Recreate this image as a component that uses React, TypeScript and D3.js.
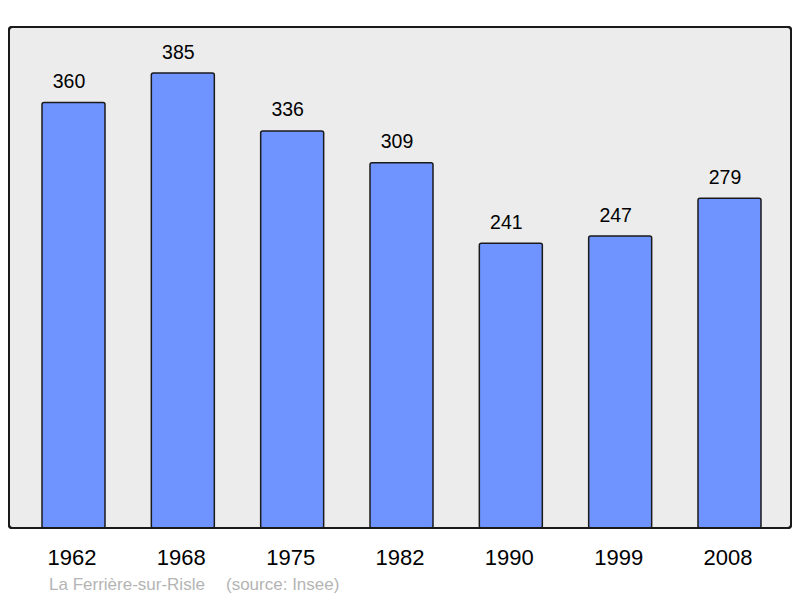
import * as d3 from "d3";
import React from 'react'

const years = ["1962", "1968", "1975", "1982", "1990", "1999", "2008"]
const population = [360, 385, 336, 309, 241, 247, 279]
const commune = "La Ferrière-sur-Risle"
const source = "(source: Insee)"

const W = 800
const H = 598
const frame = { l: 9, t: 27, r: 791, b: 528 }

const App: React.FC = () => {
  const x = d3.scalePoint<string>().domain(years).range([73.5, 729.5])
  const y = d3.scaleLinear().domain([0, 385]).range([frame.b, 73])
  const bw = 63

  return (
    <svg width={W} height={H} style={{ position: "absolute", left: 0, top: 0 }}
      fontFamily="Liberation Sans, Arial, sans-serif">
      <rect x={frame.l} y={frame.t} width={frame.r - frame.l} height={frame.b - frame.t}
        rx={3} fill="#ececec" stroke="#1a1a1a" strokeWidth={2} />
      {population.map((v, i) => (
        <g key={years[i]}>
          <rect x={(x(years[i]) ?? 0) - bw / 2} y={y(v)} width={bw} height={frame.b - y(v)}
            rx={2} fill="#7094ff" stroke="#1a1a1a" strokeWidth={1.5} />
          <text x={(x(years[i]) ?? 0) - 4.5} y={y(v) - 14.5} textAnchor="middle" fontSize={19.5} fill="#000">{v}</text>
          <text x={(x(years[i]) ?? 0) - 1.5} y={564.5} textAnchor="middle" fontSize={22} fill="#000">{years[i]}</text>
        </g>
      ))}
      <rect x={frame.l} y={frame.t} width={frame.r - frame.l} height={frame.b - frame.t}
        rx={3} fill="none" stroke="#1a1a1a" strokeWidth={2} />
      <text x={49} y={590} fontSize={17} fill="#b4b4b4">{commune}</text>
      <text x={226} y={590} fontSize={17} fill="#b4b4b4">{source}</text>
    </svg>
  )
}

export default App
